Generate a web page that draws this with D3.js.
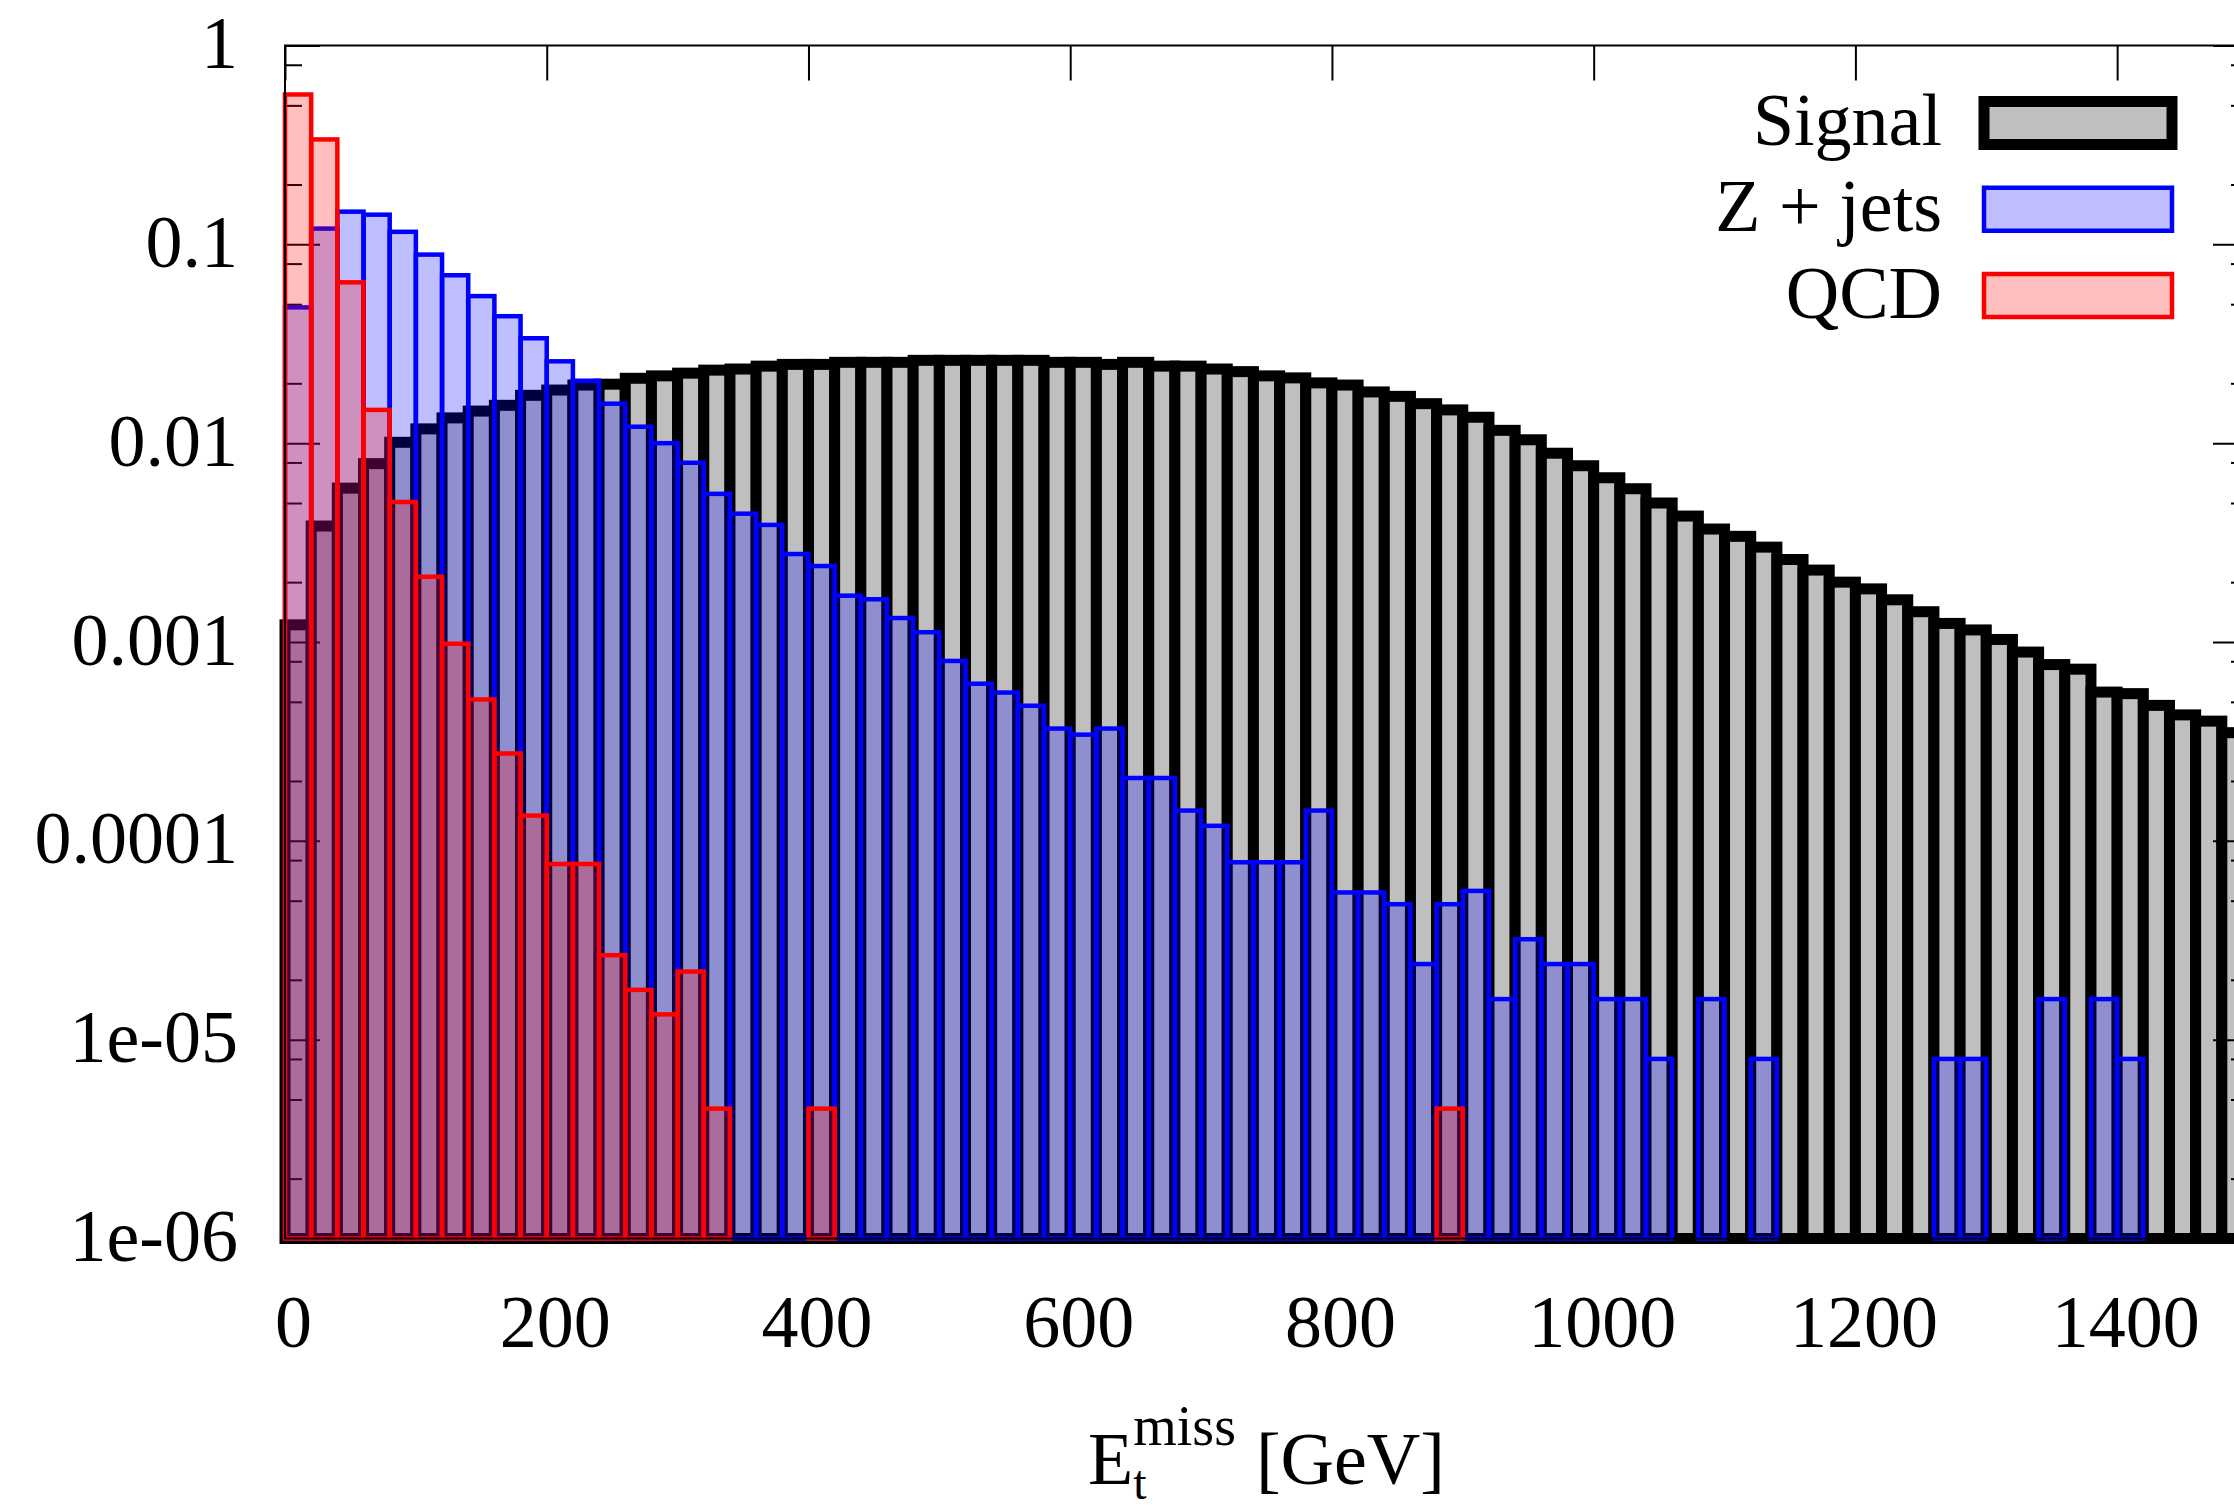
<!DOCTYPE html>
<html>
<head>
<meta charset="utf-8">
<script src="https://cdn.jsdelivr.net/npm/d3@7"></script>
<style>
    body { margin: 0; background: #fff; overflow: hidden; }
    svg { display: block; }
    text { font-family: "Liberation Serif", "Times New Roman", serif; fill: #000; }
</style>
</head>
<body>
<div id="chart"></div>
<script>
// bins are 20 GeV wide, starting at 0
var binWidth = 20;
var binStart = d3.range(0, 1500, binWidth);

// normalised histograms (0 = empty bin)
var signal = [
    0.00122, 0.00383, 0.00594, 0.00789, 0.0101, 0.0118, 0.0134, 0.0145, 0.0155, 0.0174,
    0.0185, 0.0196, 0.0198, 0.0212, 0.0218, 0.0225, 0.0233, 0.0236, 0.0244, 0.0249,
    0.0249, 0.0255, 0.0255, 0.0255, 0.0261, 0.0261, 0.0261, 0.0261, 0.0261, 0.0255,
    0.0255, 0.0249, 0.0255, 0.0244, 0.0244, 0.0236, 0.0229, 0.0218, 0.0213, 0.0201,
    0.0196, 0.0181, 0.0172, 0.0158, 0.0147, 0.0135, 0.0116, 0.0104, 0.0089, 0.0077,
    0.0067, 0.0059, 0.0050, 0.0043, 0.0037, 0.0034, 0.0030, 0.0026, 0.0023, 0.0020,
    0.00185, 0.00163, 0.00142, 0.00124, 0.00115, 0.00103, 0.00089, 0.00077, 0.00073, 0.00056,
    0.00055, 0.00048, 0.00043, 0.00040, 0.00035
];

var zjets = [
    0.0482, 0.120, 0.146, 0.141, 0.1156, 0.0888, 0.0699, 0.0549, 0.0435, 0.0337,
    0.0258, 0.0206, 0.0158, 0.0121, 0.0100, 0.00797, 0.00556, 0.00442, 0.00388, 0.00277,
    0.00241, 0.00171, 0.00164, 0.00132, 0.00112, 0.000803, 0.000617, 0.000557, 0.000478, 0.000367,
    0.000342, 0.000367, 0.000207, 0.000207, 0.000142, 0.000119, 7.8e-5, 7.8e-5, 7.8e-5, 0.000142,
    5.5e-5, 5.5e-5, 4.8e-5, 2.4e-5, 4.8e-5, 5.6e-5, 1.6e-5, 3.2e-5, 2.4e-5, 2.4e-5,
    1.6e-5, 1.6e-5, 8e-6, 0, 1.6e-5, 0, 8e-6, 0, 0, 0,
    0, 0, 0, 8e-6, 8e-6, 0, 0, 1.6e-5, 0, 1.6e-5,
    8e-6, 0, 0, 0, 0
];

var qcd = [
    0.567, 0.337, 0.0644, 0.0147, 0.00506, 0.00213, 0.00098, 0.000514, 0.000275, 0.000134,
    7.65e-5, 7.65e-5, 2.66e-5, 1.78e-5, 1.34e-5, 2.2e-5, 4.5e-6, 0, 0, 0,
    4.5e-6, 0, 0, 0, 0, 0, 0, 0, 0, 0,
    0, 0, 0, 0, 0, 0, 0, 0, 0, 0,
    0, 0, 0, 0, 4.5e-6, 0, 0, 0, 0, 0,
    0, 0, 0, 0, 0, 0, 0, 0, 0, 0,
    0, 0, 0, 0, 0, 0, 0, 0, 0, 0,
    0, 0, 0, 0, 0
];

var seriesNames = ["Signal", "Z + jets", "QCD"];

// axis ticks
var xTicks = [0, 200, 400, 600, 800, 1000, 1200, 1400];
var yTicks = [1, 0.1, 0.01, 0.001, 0.0001, 0.00001, 0.000001];
var yTickLabels = ["1", "0.1", "0.01", "0.001", "0.0001", "1e-05", "1e-06"];
var yMinorSteps = [2, 5, 8];

// page and plot area (the right border sits just past the page edge)
var w = 2234;
var h = 1510;
var plotLeft = 285;
var plotRight = 2248;
var plotTop = 45.5;
var plotBottom = 1238.5;

var xScale = d3.scaleLinear()
    .domain([0, 1500])
    .range([plotLeft, plotRight]);

var yScale = d3.scaleLog()
    .domain([1e-6, 1])
    .range([plotBottom, plotTop]);

var yMinor = [];
for (var k = -6; k < 0; k++) {
    yMinorSteps.forEach(function(m) {
        yMinor.push(m * Math.pow(10, k));
    });
}

var svg = d3.select("#chart")
    .append("svg")
    .attr("width", w)
    .attr("height", h);

svg.append("rect")
    .attr("width", w)
    .attr("height", h)
    .attr("fill", "#fff");

// one histogram = one rect per non-empty bin
function drawHist(values, fill, stroke, strokeWidth) {
    var bins = binStart.map(function(lo, i) {
        return { lo: lo, v: values[i] };
    }).filter(function(d) { return d.v > 0; });

    svg.append("g")
        .selectAll("rect")
        .data(bins)
        .enter()
        .append("rect")
        .attr("x", function(d) { return xScale(d.lo); })
        .attr("width", function(d) { return xScale(d.lo + binWidth) - xScale(d.lo); })
        .attr("y", function(d) { return yScale(d.v); })
        .attr("height", function(d) { return yScale(1e-6) - yScale(d.v); })
        .attr("fill", fill)
        .attr("stroke", stroke)
        .attr("stroke-width", strokeWidth);
}

drawHist(signal, "#bfbfbf", "#000", 11);

// ticks on all four sides, pointing inward
function styleAxis(g) {
    g.select(".domain").remove();
    g.selectAll("line").attr("stroke", "#000").attr("stroke-width", 2);
    g.selectAll("text").attr("font-size", 74).attr("fill", "#000");
}

svg.append("g")
    .attr("transform", "translate(" + plotLeft + ",0)")
    .call(d3.axisLeft(yScale)
        .tickValues(yTicks)
        .tickFormat(function(d, i) { return yTickLabels[i]; })
        .tickSizeInner(-35).tickSizeOuter(0).tickPadding(47))
    .call(styleAxis)
    .call(function(g) { g.selectAll("text").attr("dy", 22); });

svg.append("g")
    .attr("transform", "translate(" + plotLeft + ",0)")
    .call(d3.axisLeft(yScale).tickValues(yMinor).tickFormat("")
        .tickSizeInner(-17).tickSizeOuter(0))
    .call(styleAxis);

svg.append("g")
    .attr("transform", "translate(" + plotRight + ",0)")
    .call(d3.axisRight(yScale).tickValues(yTicks).tickFormat("")
        .tickSizeInner(-35).tickSizeOuter(0))
    .call(styleAxis);

svg.append("g")
    .attr("transform", "translate(" + plotRight + ",0)")
    .call(d3.axisRight(yScale).tickValues(yMinor).tickFormat("")
        .tickSizeInner(-17).tickSizeOuter(0))
    .call(styleAxis);

svg.append("g")
    .attr("transform", "translate(0," + plotBottom + ")")
    .call(d3.axisBottom(xScale).tickValues(xTicks).tickFormat(d3.format("d"))
        .tickSizeInner(-35).tickSizeOuter(0))
    .call(styleAxis)
    .call(function(g) {
        g.selectAll("text").attr("x", 8).attr("y", 108).attr("dy", 0);
    });

svg.append("g")
    .attr("transform", "translate(0," + plotTop + ")")
    .call(d3.axisTop(xScale).tickValues(xTicks).tickFormat("")
        .tickSizeInner(-35).tickSizeOuter(0))
    .call(styleAxis);

// backgrounds are see-through, drawn over the signal
drawHist(zjets, "rgba(0,0,255,0.25)", "#0000ff", 4.5);
drawHist(qcd, "rgba(255,0,0,0.25)", "#ff0000", 4.5);

// border
svg.append("rect")
    .attr("x", plotLeft)
    .attr("y", plotTop)
    .attr("width", plotRight - plotLeft)
    .attr("height", plotBottom - plotTop)
    .attr("fill", "none")
    .attr("stroke", "#000")
    .attr("stroke-width", 2);

// legend
var legendStyles = [
    { fill: "#bfbfbf", stroke: "#000", sw: 11 },
    { fill: "rgba(0,0,255,0.25)", stroke: "#0000ff", sw: 4.5 },
    { fill: "rgba(255,0,0,0.25)", stroke: "#ff0000", sw: 4.5 }
];

var legend = svg.append("g")
    .selectAll("g")
    .data(seriesNames)
    .enter()
    .append("g")
    .attr("transform", function(d, i) { return "translate(0," + (123 + i * 86.25) + ")"; });

legend.append("text")
    .attr("x", 1942)
    .attr("y", 22)
    .attr("text-anchor", "end")
    .attr("font-size", 74)
    .text(function(d) { return d; });

legend.append("rect")
    .attr("x", 1984)
    .attr("y", -21.5)
    .attr("width", 188)
    .attr("height", 43)
    .attr("fill", function(d, i) { return legendStyles[i].fill; })
    .attr("stroke", function(d, i) { return legendStyles[i].stroke; })
    .attr("stroke-width", function(d, i) { return legendStyles[i].sw; });

// x axis title: E_t^miss [GeV], one text element with sub/superscript tspans
var baseY = 1484;
var subSize = 48, supSize = 56;
var probe = svg.append("g");
var wE = probe.append("text").attr("font-size", 74).text("E").node().getComputedTextLength();
var wSub = probe.append("text").attr("font-size", subSize).text("t").node().getComputedTextLength();
var wSup = probe.append("text").attr("font-size", supSize).text("miss").node().getComputedTextLength();
var wUnit = probe.append("text").attr("font-size", 74).text("[GeV]").node().getComputedTextLength();
probe.remove();

var wScript = Math.max(wSub, wSup);
var gap = 20;
var x0 = (plotLeft + plotRight) / 2 - (wE + wScript + gap + wUnit) / 2;

var xTitle = svg.append("text")
    .attr("x", x0)
    .attr("y", baseY)
    .attr("font-size", 74);

xTitle.append("tspan").text("E");
xTitle.append("tspan")
    .attr("x", x0 + wE).attr("y", baseY + 15)
    .attr("font-size", subSize).text("t");
xTitle.append("tspan")
    .attr("x", x0 + wE).attr("y", baseY - 39)
    .attr("font-size", supSize).text("miss");
xTitle.append("tspan")
    .attr("x", x0 + wE + wScript + gap).attr("y", baseY)
    .text("[GeV]");
</script>
</body>
</html>
